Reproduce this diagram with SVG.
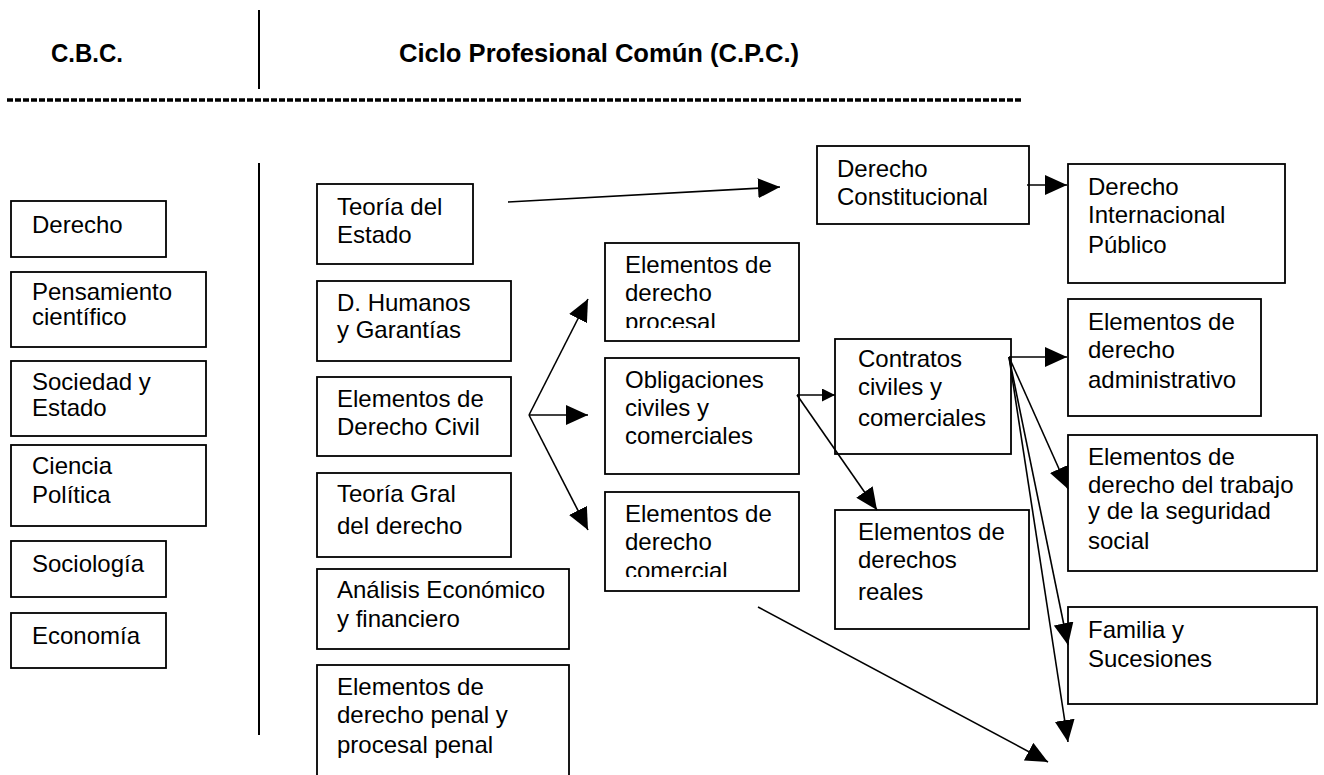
<svg xmlns="http://www.w3.org/2000/svg" width="1324" height="775" viewBox="0 0 1324 775">
<style>
.b{fill:#fff;stroke:#000;stroke-width:1.8}
.t{font-family:"Liberation Sans",Arial,sans-serif;font-size:24px;fill:#000}
.h{font-family:"Liberation Sans",Arial,sans-serif;font-size:26px;font-weight:bold;fill:#000}
.c line,.c path{stroke:#000;stroke-width:1.6;fill:none}
.big{marker-end:url(#ab)}
.sm{marker-end:url(#as)}
</style>
<defs>
<marker id="ab" markerUnits="userSpaceOnUse" markerWidth="22" markerHeight="20" refX="22" refY="10" orient="auto"><path d="M0,0 L22,10 L0,20 z" fill="#000"/></marker>
<marker id="as" markerUnits="userSpaceOnUse" markerWidth="13" markerHeight="13" refX="13" refY="6.5" orient="auto"><path d="M0,0 L13,6.5 L0,13 z" fill="#000"/></marker>
<clipPath id="cp1"><rect x="600" y="240" width="200" height="88"/></clipPath>
<clipPath id="cp2"><rect x="600" y="490" width="200" height="87"/></clipPath>
</defs>
<rect width="1324" height="775" fill="#fff"/>
<g id="header">
<text class="h" x="51" y="62" textLength="72" lengthAdjust="spacingAndGlyphs">C.B.C.</text>
<line x1="259" y1="10" x2="259" y2="89" stroke="#000" stroke-width="2"/>
<text class="h" x="399" y="62" textLength="400" lengthAdjust="spacingAndGlyphs">Ciclo Profesional Común (C.P.C.)</text>
<line x1="7" y1="100" x2="1023" y2="100" stroke="#000" stroke-width="3.5" stroke-dasharray="6 2"/>
<line x1="259" y1="163" x2="259" y2="735" stroke="#000" stroke-width="2"/>
</g>
<g id="n-derecho"><rect class="b" x="11" y="201" width="155" height="56"/><text class="t" x="32" y="233">Derecho</text></g>
<g id="n-pensamiento"><rect class="b" x="11" y="272" width="195" height="75"/><text class="t" x="32" y="300">Pensamiento</text><text class="t" x="32" y="325">científico</text></g>
<g id="n-sociedad"><rect class="b" x="11" y="361" width="195" height="75"/><text class="t" x="32" y="390">Sociedad y</text><text class="t" x="32" y="416">Estado</text></g>
<g id="n-ciencia"><rect class="b" x="11" y="445" width="195" height="81"/><text class="t" x="32" y="474">Ciencia</text><text class="t" x="32" y="503">Política</text></g>
<g id="n-sociologia"><rect class="b" x="11" y="541" width="155" height="56"/><text class="t" x="32" y="572">Sociología</text></g>
<g id="n-economia"><rect class="b" x="11" y="613" width="155" height="55"/><text class="t" x="32" y="644">Economía</text></g>
<g id="n-teoria-estado"><rect class="b" x="317" y="184" width="156" height="80"/><text class="t" x="337" y="215">Teoría del</text><text class="t" x="337" y="243">Estado</text></g>
<g id="n-humanos"><rect class="b" x="317" y="281" width="194" height="80"/><text class="t" x="337" y="311">D. Humanos</text><text class="t" x="337" y="338">y Garantías</text></g>
<g id="n-civil"><rect class="b" x="317" y="377" width="194" height="79"/><text class="t" x="337" y="407">Elementos de</text><text class="t" x="337" y="435">Derecho Civil</text></g>
<g id="n-teoria-gral"><rect class="b" x="317" y="473" width="194" height="84"/><text class="t" x="337" y="502">Teoría Gral</text><text class="t" x="337" y="534">del derecho</text></g>
<g id="n-analisis"><rect class="b" x="317" y="569" width="252" height="80"/><text class="t" x="337" y="598">Análisis Económico</text><text class="t" x="337" y="627">y financiero</text></g>
<g id="n-penal"><rect class="b" x="317" y="665" width="252" height="130"/><text class="t" x="337" y="695">Elementos de</text><text class="t" x="337" y="723">derecho penal y</text><text class="t" x="337" y="753">procesal penal</text></g>
<g id="n-procesal"><rect class="b" x="605" y="243" width="194" height="98"/><g clip-path="url(#cp1)"><text class="t" x="625" y="273">Elementos de</text><text class="t" x="625" y="301">derecho</text><text class="t" x="625" y="330">procesal</text></g></g>
<g id="n-obligaciones"><rect class="b" x="605" y="358" width="194" height="116"/><text class="t" x="625" y="388">Obligaciones</text><text class="t" x="625" y="416">civiles y</text><text class="t" x="625" y="444">comerciales</text></g>
<g id="n-comercial"><rect class="b" x="605" y="492" width="194" height="99"/><g clip-path="url(#cp2)"><text class="t" x="625" y="522">Elementos de</text><text class="t" x="625" y="550">derecho</text><text class="t" x="625" y="579">comercial</text></g></g>
<g id="n-constitucional"><rect class="b" x="817" y="146" width="212" height="78"/><text class="t" x="837" y="177">Derecho</text><text class="t" x="837" y="205">Constitucional</text></g>
<g id="n-contratos"><rect class="b" x="835" y="339" width="176" height="115"/><text class="t" x="858" y="367">Contratos</text><text class="t" x="858" y="395">civiles y</text><text class="t" x="858" y="426">comerciales</text></g>
<g id="n-reales"><rect class="b" x="835" y="510" width="194" height="119"/><text class="t" x="858" y="540">Elementos de</text><text class="t" x="858" y="568">derechos</text><text class="t" x="858" y="600">reales</text></g>
<g id="n-dip"><rect class="b" x="1068" y="164" width="217" height="119"/><text class="t" x="1088" y="195">Derecho</text><text class="t" x="1088" y="223">Internacional</text><text class="t" x="1088" y="253">Público</text></g>
<g id="n-administrativo"><rect class="b" x="1068" y="299" width="193" height="117"/><text class="t" x="1088" y="330">Elementos de</text><text class="t" x="1088" y="358">derecho</text><text class="t" x="1088" y="388">administrativo</text></g>
<g id="n-trabajo"><rect class="b" x="1068" y="435" width="249" height="136"/><text class="t" x="1088" y="465">Elementos de</text><text class="t" x="1088" y="493">derecho del trabajo</text><text class="t" x="1088" y="519">y de la seguridad</text><text class="t" x="1088" y="549">social</text></g>
<g id="n-familia"><rect class="b" x="1068" y="607" width="249" height="97"/><text class="t" x="1088" y="638">Familia y</text><text class="t" x="1088" y="667">Sucesiones</text></g>
<g id="connectors" class="c">
<line class="big" x1="508" y1="202" x2="780" y2="187"/>
<line class="big" x1="1027" y1="185" x2="1067" y2="185"/>
<line class="big" x1="529" y1="415" x2="588" y2="299"/>
<line class="big" x1="529" y1="415" x2="588" y2="415"/>
<line class="big" x1="529" y1="415" x2="588" y2="530"/>
<line class="sm" x1="797" y1="395" x2="835" y2="395"/>
<line class="big" x1="797" y1="395" x2="877" y2="510"/>
<line class="big" x1="1009" y1="357" x2="1067" y2="357"/>
<line class="big" x1="1009" y1="357" x2="1068" y2="489"/>
<line class="big" x1="1009" y1="357" x2="1068" y2="645"/>
<line class="big" x1="1009" y1="357" x2="1068" y2="742"/>
<line class="big" x1="758" y1="607" x2="1048" y2="762"/>
</g>
</svg>
